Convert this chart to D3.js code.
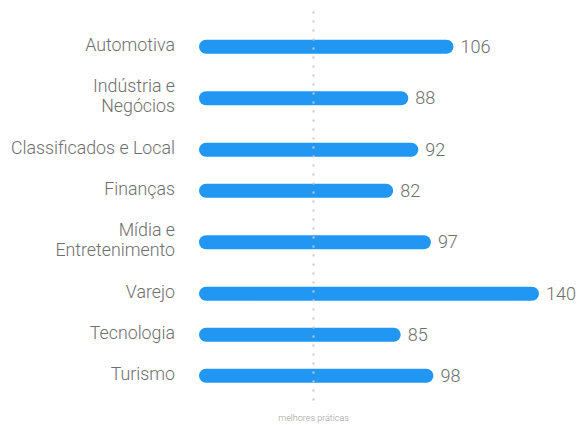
<!DOCTYPE html>
<html>
<head>
    <meta charset="utf-8" />
    <title>Setores</title>
    <style>
    body {
        margin: 0;
        background: #fff;
    }
    svg {
        display: block;
        font-family: Roboto, sans-serif;
    }
    .label, .value {
        fill: #6e6e6e;
        font-weight: 300;
    }
    .label { font-size: 17.8px; }
    .value { font-size: 18px; }
    .bench-label {
        fill: #9a9a9a;
        font-size: 9px;
        font-weight: 300;
    }
    </style>
</head>
<body>
    <div id="chart"></div>

    <script src="https://d3js.org/d3.v7.min.js"></script>
    <script>
        // data
        var categories = ["Automotiva", "Indústria e\nNegócios", "Classificados e Local", "Finanças",
                          "Mídia e\nEntretenimento", "Varejo", "Tecnologia", "Turismo"];
        var values = [106, 88, 92, 82, 97, 140, 85, 98];
        var benchmark = 50;
        var benchmarkLabel = "melhores práticas";

        var width = 581, height = 425;
        var barStart = 199, barHeight = 14;
        var rowSingle = 41, rowDouble = 62, topY = 26.2;
        var lineHeight = 19.5;

        var svg = d3.select("#chart").append("svg")
            .attr("width", width)
            .attr("height", height);

        var x = d3.scaleLinear()
            .domain([0, 140])
            .range([187, 539]);

        // row centres: two-line labels need taller rows
        var rows = categories.map(function(c, i) {
            return { name: c, lines: c.split("\n"), value: values[i] };
        });
        var yPos = topY;
        rows.forEach(function(r) {
            var h = r.lines.length > 1 ? rowDouble : rowSingle;
            r.y = yPos + h / 2;
            yPos += h;
        });

        // bars
        svg.append("g").selectAll("rect")
            .data(rows)
            .enter().append("rect")
            .attr("x", barStart)
            .attr("y", function(d) { return d.y - barHeight / 2; })
            .attr("width", function(d) { return x(d.value) - barStart; })
            .attr("height", barHeight)
            .attr("rx", barHeight / 2)
            .attr("fill", "#2196f3");

        // category labels
        var labels = svg.append("g").selectAll("text")
            .data(rows)
            .enter().append("text")
            .attr("class", "label")
            .attr("text-anchor", "end")
            .attr("x", 175);
        labels.each(function(d) {
            var n = d.lines.length;
            d3.select(this).selectAll("tspan")
                .data(d.lines)
                .enter().append("tspan")
                .attr("x", 175)
                .attr("y", function(l, i) { return d.y + 4 + (i - (n - 1) / 2) * lineHeight; })
                .text(function(l) { return l; });
        });

        // value labels
        svg.append("g").selectAll("text")
            .data(rows)
            .enter().append("text")
            .attr("class", "value")
            .attr("x", function(d) { return x(d.value) + 7; })
            .attr("y", function(d) { return d.y + 6; })
            .text(function(d) { return d.value; });

        // benchmark dotted line, on top of bars
        var bx = Math.round(x(benchmark)) + 0.5;
        svg.append("line")
            .attr("x1", bx).attr("x2", bx)
            .attr("y1", 11.5).attr("y2", 407)
            .attr("stroke", "#c8c8c8")
            .attr("stroke-width", 2)
            .attr("stroke-dasharray", "2 7");

        svg.append("text")
            .attr("class", "bench-label")
            .attr("text-anchor", "middle")
            .attr("x", bx)
            .attr("y", 421)
            .text(benchmarkLabel);
    </script>
</body>
</html>
